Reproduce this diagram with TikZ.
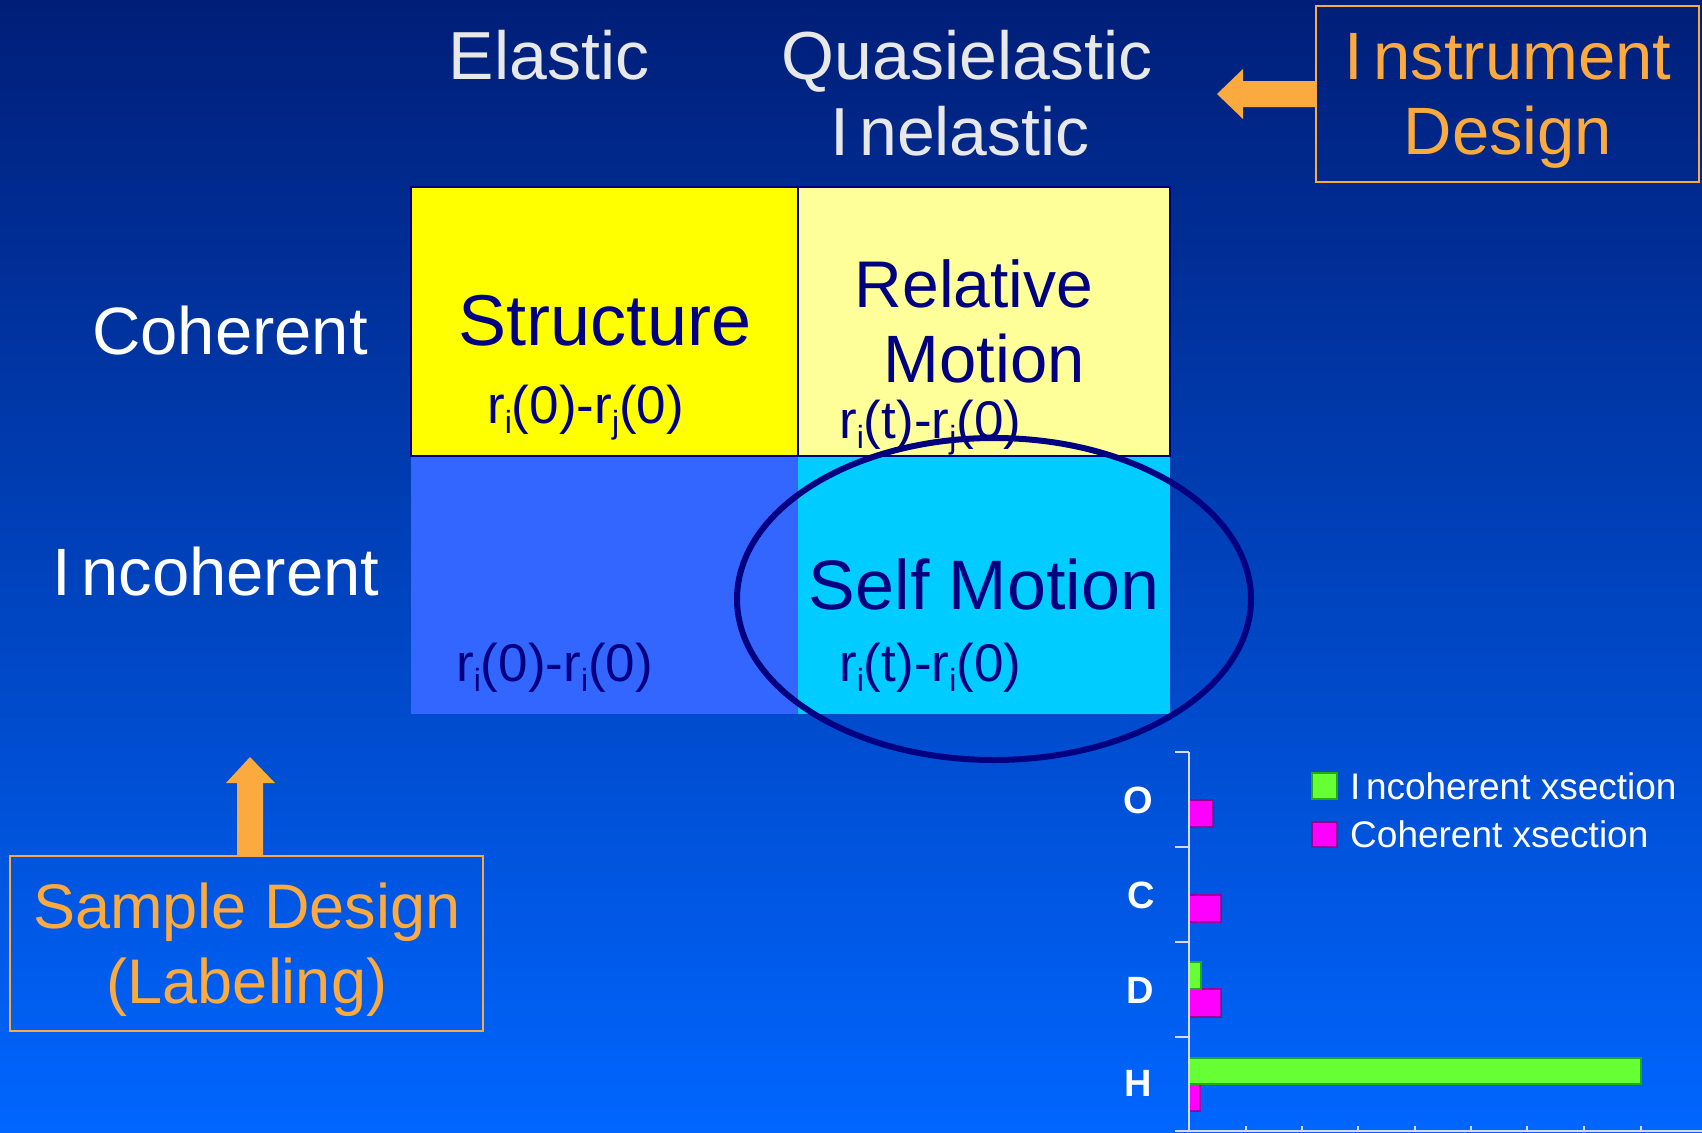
\documentclass[tikz,border=0pt]{standalone}
\usepackage{fontspec}
\setmainfont{Liberation Sans}
\newcommand\fsz[1]{\fontsize{#1}{#1}\selectfont}
\newcommand\sbs[1]{\raisebox{-0.2em}{\fontsize{32}{32}\selectfont #1}}
\definecolor{bgtop}{HTML}{001E78}
\definecolor{bgmid}{HTML}{0050DC}
\definecolor{bgbot}{HTML}{0066FF}
\definecolor{navyc}{HTML}{000080}
\definecolor{orangec}{HTML}{FBAA3F}
\definecolor{cellyellow}{HTML}{FFFF00}
\definecolor{celllight}{HTML}{FFFF99}
\definecolor{cellblue}{HTML}{3366FF}
\definecolor{cellcyan}{HTML}{00CCFF}
\definecolor{barg}{HTML}{66FF33}
\definecolor{bargd}{HTML}{22AA11}
\definecolor{barm}{HTML}{FF00FF}
\definecolor{barmd}{HTML}{990099}
\definecolor{headgray}{HTML}{E8E8E8}
\tikzset{
  head/.style={anchor=base, inner sep=0pt, text=headgray, font=\fsz{68}},
  rowlab/.style={anchor=base, inner sep=0pt, text=white, font=\fsz{67}},
  celltext/.style={anchor=base, inner sep=0pt, text=navyc},
  formula/.style={anchor=base west, inner sep=0pt, text=navyc, font=\fsz{53}},
  orangebox/.style={draw=orangec, line width=2pt},
  orangetext/.style={anchor=base, inner sep=0pt, text=orangec},
  blockarrow/.style={fill=orangec},
  catlab/.style={inner sep=0pt, text=white, font=\fsz{38}\bfseries},
  legtext/.style={anchor=base west, inner sep=0pt, text=white, font=\fsz{37}},
  gbar/.style={fill=barg, draw=bargd, line width=1.2pt},
  mbar/.style={fill=barm, draw=barmd, line width=1.2pt},
  axisline/.style={draw=white!85!blue, line width=1.5pt}
}
\begin{document}
\begin{tikzpicture}[x=1pt, y=-1pt]
\useasboundingbox (0,0) rectangle (1702,1132);
\shade[top color=bgtop, middle color=bgmid, bottom color=bgbot] (0,0) rectangle (1702,1132);

% column / row headings
\node[head] (elastic) at (549,79) {Elastic};
\node[head] (quasi) at (967,79) {Quasielastic};
\node[head] (inel) at (960,155) {I\kern0.15em nelastic};
\node[rowlab] (coh) at (230,354) {Coherent};
\node[rowlab] (incoh) at (216,595) {I\kern0.15em ncoherent};

% matrix cells
\fill[cellblue] (411,456) rectangle (798,714);
\fill[cellcyan] (798,456) rectangle (1170,714);
\filldraw[fill=cellyellow, draw=navyc, line width=1.5pt] (411,187) rectangle (798,456);
\filldraw[fill=celllight, draw=navyc, line width=1.5pt] (798,187) rectangle (1170,456);

\node[celltext, font=\fsz{72}] (struct) at (605,345) {Structure};
\node[formula] (fstruct) at (487,423) {r\sbs{i}(0)-r\sbs{j}(0)};
\node[celltext, font=\fsz{66}] (rel) at (974,307) {Relative};
\node[celltext, font=\fsz{67}] (mot) at (984,382) {Motion};
\node[formula] (frel) at (839,438) {r\sbs{i}(t)-r\sbs{j}(0)};
\node[celltext, font=\fsz{70}] (self) at (984,609) {Self Motion};
\node[formula] (fself) at (839,681) {r\sbs{i}(t)-r\sbs{i}(0)};
\node[formula] (fincel) at (456,681) {r\sbs{i}(0)-r\sbs{i}(0)};

% ellipse
\draw[navyc, line width=6pt] (994,599) ellipse [x radius=257pt, y radius=161pt];

% instrument design
\draw[orangebox] (1316,6) rectangle (1699,182);
\node[orangetext, font=\fsz{67}] (instr) at (1508,79) {I\kern0.15em nstrument};
\node[orangetext, font=\fsz{67}] (design) at (1508,154) {Design};
\fill[blockarrow] (1316,81) -- (1243,81) -- (1243,69) -- (1217,94) -- (1243,119) -- (1243,107) -- (1316,107) -- cycle;

% sample design
\draw[orangebox] (10,856) rectangle (483,1031);
\node[orangetext, font=\fsz{63}] (sample) at (247,928) {Sample Design};
\node[orangetext, font=\fsz{63}] (label) at (247,1003) {(Labeling)};
\fill[blockarrow] (237,856) -- (237,783) -- (226,783) -- (250,757) -- (275,783) -- (263,783) -- (263,856) -- cycle;

% chart
\filldraw[mbar] (1189,800) rectangle (1213,827);
\filldraw[mbar] (1189,895) rectangle (1221,922);
\filldraw[mbar] (1189,989) rectangle (1221,1017);
\filldraw[mbar] (1189,1084) rectangle (1200,1111);
\filldraw[gbar] (1189,962) rectangle (1201,989);
\filldraw[gbar] (1189,1058) rectangle (1641,1084);
\draw[axisline] (1189,752) -- (1189,1132);
\foreach \yy in {752,847,942,1037} \draw[axisline] (1175,\yy) -- (1189,\yy);
\draw[axisline] (1175,1131) -- (1702,1131);
\foreach \xx in {1246,1302,1358,1415,1471,1527,1584,1641} \draw[axisline] (\xx,1126) -- (\xx,1132);
\node[catlab] (lo) at (1138,800) {O};
\node[catlab] (lc) at (1141,895) {C};
\node[catlab] (ld) at (1140,990) {D};
\node[catlab] (lh) at (1138,1083) {H};

% legend
\filldraw[gbar] (1312,773) rectangle (1337,799);
\filldraw[mbar] (1312,822) rectangle (1337,847);
\node[legtext] (leg1) at (1350,799) {I\kern0.15em ncoherent xsection};
\node[legtext] (leg2) at (1350,847) {Coherent xsection};
\end{tikzpicture}
\end{document}
